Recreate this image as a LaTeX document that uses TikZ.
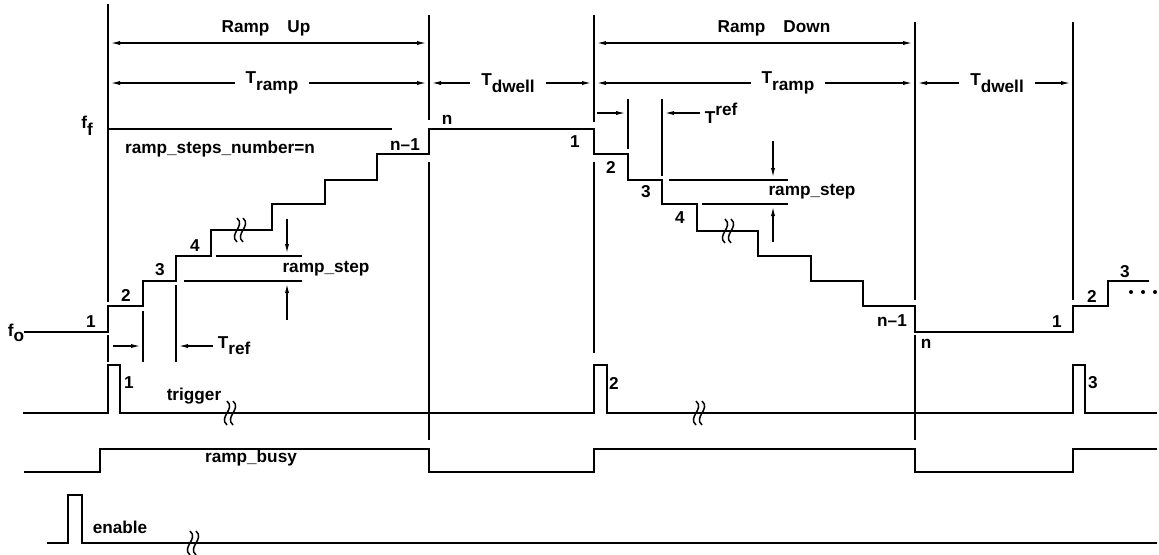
\documentclass[tikz,border=0pt]{standalone}
\usepackage{fontspec}
\setmainfont{Liberation Sans}
\usetikzlibrary{arrows.meta}

\newcommand{\lo}[1]{\raisebox{-3.5pt}{#1}}
\newcommand{\wiggle}[2]{%
  \foreach \dx in {-3,3}
    \draw[line width=0.75pt] (#1+\dx,#2-12) .. controls (#1+\dx+9,#2-4) and (#1+\dx-9,#2+4) .. (#1+\dx,#2+12);}

\begin{document}
\begin{tikzpicture}[x=0.5pt, y=-0.5pt, line width=0.9pt,
  tip/.style={-{Latex[length=6pt,width=2pt]}},
  both/.style={{Latex[length=6pt,width=2pt]}-{Latex[length=6pt,width=2pt]}},
  txt/.style={font=\fontsize{8.6}{10}\selectfont\bfseries, inner sep=0pt},
  dimtxt/.style={txt, inner sep=5pt}]
\useasboundingbox (0,0) rectangle (1159,554);

\coordinate (xA) at (108,0);
\coordinate (xB) at (429,0);
\coordinate (xC) at (594,0);
\coordinate (xD) at (915,0);
\coordinate (xE) at (1073,0);
\coordinate (u3) at (176,0);
\coordinate (d3) at (662,0);

\draw (108,4) -- (108,302);
\draw (108,335) -- (108,362);
\draw (143,311) -- (143,362);
\draw (176,285) -- (176,362);
\draw (429,15) -- (429,120);
\draw (429,162) -- (429,440);
\draw (594,15) -- (594,122);
\draw (594,162) -- (594,353);
\draw (628,99) -- (628,149);
\draw (662,99) -- (662,176);
\draw (915,22) -- (915,300);
\draw (915,335) -- (915,440);
\draw (1073,22) -- (1073,300);

\node (rampup) [txt] at (266,28) {Ramp\hspace{9pt}Up};
\node (rampdown) [txt] at (774,28) {Ramp\hspace{9pt}Down};
\draw [both] (108,43) -- (429,43);
\draw [both] (594,43) -- (915,43);

\node (trampU) [dimtxt] at (272,83) {T\lo{ramp}};
\node (tdwellU) [dimtxt] at (508,83) {T\lo{dwell}};
\node (trampD) [dimtxt] at (788,83) {T\lo{ramp}};
\node (tdwellD) [dimtxt] at (997,83) {T\lo{dwell}};
\draw [tip] (trampU.west) -- (trampU.west -| xA);
\draw [tip] (trampU.east) -- (trampU.east -| xB);
\draw [tip] (tdwellU.west) -- (tdwellU.west -| xB);
\draw [tip] (tdwellU.east) -- (tdwellU.east -| xC);
\draw [tip] (trampD.west) -- (trampD.west -| xC);
\draw [tip] (trampD.east) -- (trampD.east -| xD);
\draw [tip] (tdwellD.west) -- (tdwellD.west -| xD);
\draw [tip] (tdwellD.east) -- (tdwellD.east -| xE);

\node (ff) [txt] at (87,126) {f\lo{f}};
\node (fo) [txt] at (16,333) {f\raisebox{-2.5pt}{o}};
\draw (108,129) -- (392,129);
\node (stepsnum) [txt] at (220,149) {ramp\_steps\_number=n};

\draw (24,332) -- (108,332) -- (108,306) -- (143,306) -- (143,281) -- (176,281) -- (176,256) -- (211,256)
  -- (211,230) -- (272,230) -- (272,204) -- (325,204) -- (325,180) -- (377,180) -- (377,154) -- (429,154)
  -- (429,129) -- (594,129) -- (594,154) -- (628,154) -- (628,180) -- (662,180) -- (662,204) -- (697,204)
  -- (697,231) -- (758,231) -- (758,256) -- (811,256) -- (811,281) -- (863,281) -- (863,306) -- (915,306)
  -- (915,332) -- (1073,332) -- (1073,306) -- (1108,306) -- (1108,281) -- (1149,281);
\wiggle{240}{230}
\wiggle{728}{231}
\fill (1131,292) circle [radius=1pt];
\fill (1143,292) circle [radius=1pt];
\fill (1155,292) circle [radius=1pt];

\node (up1) [txt] at (91,322) {1};
\node (up2) [txt] at (126,295) {2};
\node (up3) [txt] at (160,270) {3};
\node (up4) [txt] at (195,246) {4};
\node (upn1) [txt] at (405,145) {n--1};
\node (upn) [txt] at (447,120) {n};
\node (dn1) [txt] at (575,142) {1};
\node (dn2) [txt] at (611,167) {2};
\node (dn3) [txt] at (646,192) {3};
\node (dn4) [txt] at (680,218) {4};
\node (dnn1) [txt] at (892,321) {n--1};
\node (dnn) [txt] at (926,344) {n};
\node (nx1) [txt] at (1057,322) {1};
\node (nx2) [txt] at (1092,296) {2};
\node (nx3) [txt] at (1125,272) {3};

\draw (216,256) -- (302,256);
\draw (184,281) -- (302,281);
\draw [tip] (287,219) -- (287,256);
\draw [tip] (287,320) -- (287,281);
\node (stepU) [txt] at (326,269) {ramp\_step};
\draw (669,180) -- (788,180);
\draw (702,204) -- (788,204);
\draw [tip] (773,141) -- (773,180);
\draw [tip] (773,242) -- (773,204);
\node (stepD) [txt] at (812,192) {ramp\_step};

\node (trefU) [txt, inner sep=2pt, anchor=west] at (213,346) {T\raisebox{-3pt}{ref}};
\draw [tip] (113,346) -- (143,346);
\draw [tip] (trefU.west) -- (trefU.west -| u3);
\node (trefD) [txt, inner sep=2pt, anchor=west] at (700,113) {T\raisebox{4pt}{ref}};
\draw [tip] (597,113) -- (628,113);
\draw [tip] (trefD.west) -- (trefD.west -| d3);

\draw (23,413) -- (108,413) -- (108,365) -- (120,365) -- (120,413) -- (594,413) -- (594,365) -- (607,365)
  -- (607,413) -- (1073,413) -- (1073,365) -- (1085,365) -- (1085,413) -- (1157,413);
\wiggle{230}{413}
\wiggle{699}{413}
\node (trg1) [txt] at (129,383) {1};
\node (trg2) [txt] at (614,383) {2};
\node (trg3) [txt] at (1093,383) {3};
\node (trigger) [txt] at (194,396) {trigger};

\draw (24,472) -- (100,472) -- (100,449) -- (429,449) -- (429,472) -- (594,472) -- (594,449) -- (915,449)
  -- (915,472) -- (1073,472) -- (1073,449) -- (1157,449);
\node (busy) [txt] at (251,458) {ramp\_busy};

\draw (47,543) -- (68,543) -- (68,495) -- (82,495) -- (82,543) -- (1157,543);
\wiggle{193}{543}
\node (enable) [txt] at (120,527) {enable};
\end{tikzpicture}
\end{document}
